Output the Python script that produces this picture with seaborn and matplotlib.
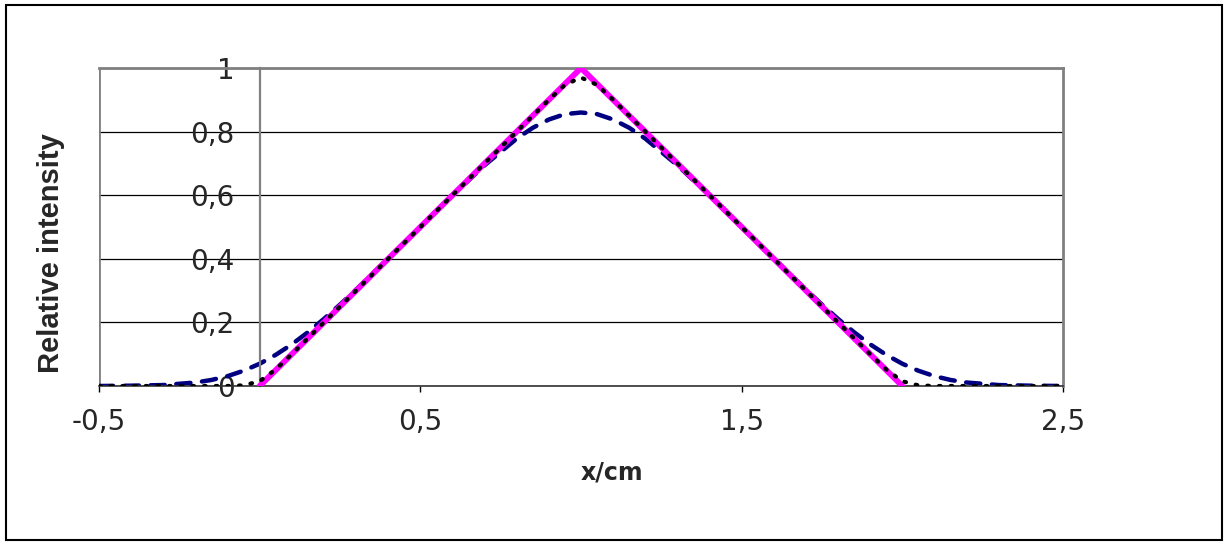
import matplotlib
matplotlib.use("Agg")
import matplotlib.pyplot as plt
from matplotlib.patches import Rectangle
import pandas as pd
import seaborn as sns

# triangle source profile (solid magenta)
x_tri = [0.0, 0.5, 1.0, 1.5, 2.0]
y_tri = [0.0, 0.5, 1.0, 0.5, 0.0]

# slightly rounded profile (black dotted)
x_dot = [-0.5, -0.4, -0.3, -0.2, -0.1, -0.05, 0.0, 0.05, 0.1, 0.2, 0.3, 0.4, 0.5,
         0.6, 0.7, 0.8, 0.9, 0.95, 1.0, 1.05, 1.1, 1.2, 1.3, 1.4, 1.5, 1.6, 1.7,
         1.8, 1.9, 1.95, 2.0, 2.05, 2.1, 2.2, 2.3, 2.4, 2.5]
y_dot = [0.0, 0.0, 0.0, 0.0, 0.0, 0.002, 0.015, 0.052, 0.100, 0.200, 0.300, 0.400, 0.500,
         0.600, 0.700, 0.800, 0.900, 0.947, 0.970, 0.947, 0.900, 0.800, 0.700, 0.600, 0.500,
         0.400, 0.300, 0.200, 0.100, 0.052, 0.015, 0.002, 0.0, 0.0, 0.0, 0.0, 0.0]

# broadened profile (navy dashed)
x_dash = [-0.5, -0.4, -0.3, -0.2, -0.15, -0.1, -0.05, 0.0, 0.05, 0.1, 0.15, 0.2, 0.25,
          0.3, 0.4, 0.5, 0.6, 0.7, 0.8, 0.85, 0.9, 0.95, 1.0, 1.05, 1.1, 1.15, 1.2,
          1.3, 1.4, 1.5, 1.6, 1.7, 1.75, 1.8, 1.85, 1.9, 1.95, 2.0, 2.05, 2.1, 2.15,
          2.2, 2.3, 2.4, 2.5]
y_dash = [0.000, 0.001, 0.003, 0.011, 0.019, 0.031, 0.048, 0.070, 0.098, 0.131, 0.169,
          0.211, 0.256, 0.303, 0.401, 0.500, 0.599, 0.694, 0.778, 0.812, 0.838, 0.855,
          0.860, 0.855, 0.838, 0.812, 0.778, 0.694, 0.599, 0.500, 0.401, 0.303, 0.256,
          0.211, 0.169, 0.131, 0.098, 0.070, 0.048, 0.031, 0.019, 0.011, 0.003, 0.001,
          0.000]

x_ticks = [-0.5, 0.5, 1.5, 2.5]
x_tick_labels = ["-0,5", "0,5", "1,5", "2,5"]
y_ticks = [0, 0.2, 0.4, 0.6, 0.8, 1.0]
y_tick_labels = ["0", "0,2", "0,4", "0,6", "0,8", "1"]

sns.set_style("white")
plt.rcParams["font.family"] = ["DejaVu Sans"]

fig = plt.figure(figsize=(12.27, 5.45), dpi=100)
ax = fig.add_axes([99 / 1227, 159 / 545, 964 / 1227, 318 / 545])

# outer chart frame
fig.patches.append(Rectangle((6 / 1227, 5 / 545), 1216 / 1227, 535 / 545,
                             transform=fig.transFigure, fill=False,
                             edgecolor="black", linewidth=1.5))

# dashed goes under the magenta triangle, dots sit on top
sns.lineplot(data=pd.DataFrame({"x": x_dash, "y": y_dash}), x="x", y="y", ax=ax,
             color="#000080", linewidth=3.2, zorder=2.2)
sns.lineplot(data=pd.DataFrame({"x": x_tri, "y": y_tri}), x="x", y="y", ax=ax,
             color="#FF00FF", linewidth=4.2, zorder=3)
sns.lineplot(data=pd.DataFrame({"x": x_dot, "y": y_dot}), x="x", y="y", ax=ax,
             color="black", linewidth=3.0, zorder=5)

# dash patterns, set on the drawn lines
dash_line, dot_line = ax.lines[0], ax.lines[2]
dash_line.set_linestyle((0, (3.2, 2.6)))
dash_line.set_dash_capstyle("round")
dot_line.set_linestyle((0, (0.4, 2.4)))
dot_line.set_dash_capstyle("round")

ax.set_xlim(-0.5, 2.5)
ax.set_ylim(0, 1)

# grid lines
ax.yaxis.grid(True, color="black", linewidth=0.9)
ax.xaxis.grid(False)
ax.set_axisbelow(True)

# plot area border, vertical axis sits at x = 0
ax.axvline(-0.5, color="#808080", linewidth=2.0, zorder=1)
for side in ["top", "right"]:
    ax.spines[side].set_color("#808080")
    ax.spines[side].set_linewidth(2.0)
ax.spines["left"].set_position(("data", 0))
ax.spines["left"].set_color("#808080")
ax.spines["left"].set_linewidth(1.6)
ax.spines["bottom"].set_color("#333333")
ax.spines["bottom"].set_linewidth(1.2)

ax.set_xticks(x_ticks)
ax.set_xticklabels(x_tick_labels, fontsize=20)
ax.set_yticks(y_ticks)
ax.set_yticklabels(y_tick_labels, fontsize=20)
ax.tick_params(axis="x", direction="out", length=4.5, width=1, color="black", pad=11,
               bottom=True)
ax.tick_params(axis="y", length=0, pad=18, left=True)

ax.set_xlabel("")
ax.set_ylabel("")
fig.text(612 / 1227, 1 - 472 / 545, "x/cm", fontsize=17, fontweight="bold",
         ha="center", va="center")
fig.text(51 / 1227, 1 - 253 / 545, "Relative intensity", fontsize=21, fontweight="bold",
         family="Liberation Sans", rotation=90, ha="center", va="center")

fig.savefig("out.png", dpi=100)
